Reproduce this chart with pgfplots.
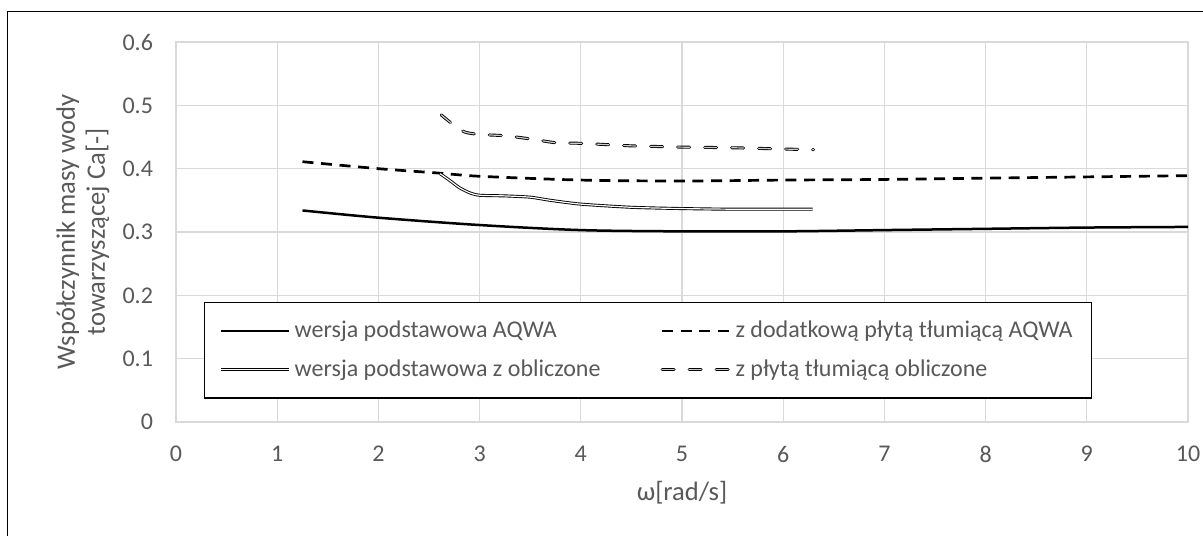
\documentclass[border=0pt]{standalone}
\usepackage{fontspec}
\setmainfont{Carlito}
\usepackage{pgfplots}
\pgfplotsset{compat=1.18}
\definecolor{gridgray}{HTML}{D9D9D9}
\definecolor{txtgray}{HTML}{595959}
\begin{document}
\begin{tikzpicture}
\useasboundingbox (0,0) rectangle (601.5pt,267.5pt);
\fill[white] (0,0) rectangle (601.5pt,267.5pt);
\draw[line width=0.85pt] (3.75pt,-20pt) -- (3.75pt,261.75pt) -- (620pt,261.75pt);
\begin{axis}[
  at={(88pt,56.5pt)}, anchor=south west,
  scale only axis, width=506pt, height=190pt,
  xmin=0, xmax=10, ymin=0, ymax=0.6,
  xtick={0,1,2,3,4,5,6,7,8,9,10},
  ytick={0,0.1,0.2,0.3,0.4,0.5,0.6},
  /pgf/number format/assume math mode=true,
  grid=major, grid style={gridgray, line width=0.6pt},
  axis line style={gridgray, line width=0.6pt},
  major tick length=0pt,
  tick label style={font=\fontsize{12}{14}\selectfont, text=txtgray},
  yticklabel style={anchor=east, xshift=-8pt},
  xticklabel style={anchor=north, yshift=-8.5pt},
  xlabel={ω[rad/s]},
  ylabel={Współczynnik masy wody\\towarzyszącej Ca[-]},
  label style={font=\fontsize{13.3}{15}\selectfont, text=txtgray},
  xlabel style={at={(axis description cs:0.5,-0.1868)}, anchor=center},
  ylabel style={at={(axis description cs:-0.0919,0.5)}, anchor=center, align=center},
  legend columns=2, legend cell align=left,
  legend image code/.code={\draw[#1] (0pt,0pt) -- (34pt,0pt);},
  legend style={at={(rel axis cs:0.02767,0.3158)}, anchor=north west,
    draw=black, line width=0.75pt, fill=white,
    font=\fontsize{12}{14}\selectfont, text=txtgray,
    inner xsep=7.5pt, inner ysep=7.25pt, row sep=5.5pt,
    /tikz/every even column/.append style={column sep=28pt}},
]
\addplot[black, line width=1.25pt, smooth] coordinates {
 (1.25,0.334) (2,0.3226) (3,0.311) (4,0.303) (5,0.301) (6,0.301)
 (7,0.303) (8,0.305) (9,0.307) (10,0.308)};
\addlegendentry{wersja podstawowa AQWA}
\addplot[black, line width=1.35pt, dash pattern=on 5.5pt off 3.8pt, smooth] coordinates {
 (1.25,0.411) (2,0.400) (2.6,0.393) (3,0.388) (4,0.382) (5,0.3805)
 (6,0.382) (7,0.383) (8,0.385) (9,0.387) (10,0.389)};
\addlegendentry{z dodatkową płytą tłumiącą AQWA}
\addplot[black, line width=0.45pt, double=white, double distance=0.6pt, smooth, tension=0.4] coordinates {
 (2.61,0.392) (2.7,0.382) (2.8,0.370) (2.9,0.362) (3.0,0.358) (3.25,0.357)
 (3.5,0.355) (3.7,0.350) (4.0,0.344) (4.5,0.339) (5.0,0.337) (5.5,0.336) (6.29,0.336)};
\addlegendentry{wersja podstawowa z obliczone}
\addplot[black, line width=0.45pt, double=black!20, double distance=0.6pt, line cap=round,
  dash pattern=on 6pt off 7.5pt, smooth, tension=0.4] coordinates {
 (2.62,0.485) (2.72,0.472) (2.85,0.458) (3.0,0.454) (3.25,0.452) (3.5,0.447)
 (3.75,0.441) (4.0,0.440) (4.25,0.438) (4.5,0.436) (4.75,0.435) (5.0,0.434)
 (5.5,0.433) (6.0,0.431) (6.3,0.430)};
\addlegendentry{z płytą tłumiącą obliczone}
\end{axis}
\end{tikzpicture}
\end{document}
